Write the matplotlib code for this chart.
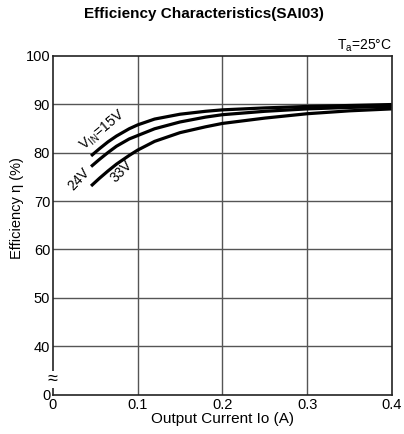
import numpy as np
import matplotlib.pyplot as plt

plt.rcParams['font.family'] = ['Liberation Sans', 'DejaVu Sans']

# output current (A) and efficiency (%)
current = [0.045, 0.055, 0.065, 0.075, 0.09, 0.10, 0.12, 0.15, 0.18, 0.20, 0.25, 0.30, 0.35, 0.40]
eff_15v = [79.3, 80.8, 82.2, 83.4, 84.9, 85.7, 86.9, 87.9, 88.5, 88.8, 89.2, 89.5, 89.7, 89.9]
eff_24v = [77.1, 78.6, 80.0, 81.3, 82.8, 83.5, 84.9, 86.3, 87.3, 87.8, 88.5, 89.0, 89.3, 89.5]
eff_33v = [73.1, 74.7, 76.2, 77.6, 79.4, 80.5, 82.3, 84.1, 85.3, 86.0, 87.1, 88.0, 88.6, 89.0]

x_ticks = [0, 0.1, 0.2, 0.3, 0.4]
x_labels = ['0', '0.1', '0.2', '0.3', '0.4']
y_ticks = [30, 40, 50, 60, 70, 80, 90, 100]
y_labels = ['0', '40', '50', '60', '70', '80', '90', '100']

fig = plt.figure(figsize=(4.04, 4.34), dpi=100)
ax = fig.add_axes([0.131, 0.09, 0.839, 0.782])

for eff in (eff_15v, eff_24v, eff_33v):
    ax.plot(current, eff, color='black', lw=2.3, solid_capstyle='butt')

ax.set_xlim(0, 0.4)
ax.set_ylim(30, 100)
ax.set_xticks(x_ticks)
ax.set_xticklabels(x_labels)
ax.set_yticks(y_ticks)
ax.set_yticklabels(y_labels)
ax.tick_params(length=0, labelsize=10.5, pad=2)

# grid: only inner lines
for v in [40, 50, 60, 70, 80, 90]:
    ax.axhline(v, color='#555555', lw=1, zorder=0)
for v in [0.1, 0.2, 0.3]:
    ax.axvline(v, color='#555555', lw=1, zorder=0)
for s in ax.spines.values():
    s.set_color('#222222')
    s.set_linewidth(1.2)

ax.set_xlabel('Output Current Io (A)', fontsize=11, labelpad=0)
ax.set_ylabel('Efficiency η (%)', fontsize=10.5)
ax.yaxis.set_label_coords(-0.085, 0.55)
fig.text(0.505, 0.968, 'Efficiency Characteristics(SAI03)', fontsize=11,
         fontweight='bold', ha='center', va='center')
ax.text(1.0, 1.005, r'T$_{\mathregular{a}}$=25°C', transform=ax.transAxes,
        ha='right', va='bottom', fontsize=10)

# curve labels
ax.text(0.058, 84.5, r'V$_{\mathregular{IN}}$=15V', rotation=40, fontsize=10,
        ha='center', va='center')
ax.text(0.031, 74.6, '24V', rotation=47, fontsize=10, ha='center', va='center')
ax.text(0.081, 76.0, '33V', rotation=45, fontsize=10, ha='center', va='center')

# axis break mark
ax.text(0.0, 0.045, '≈', transform=ax.transAxes, rotation=0, fontsize=13,
        ha='center', va='center',
        bbox=dict(facecolor='white', edgecolor='none', pad=0.0))

fig.savefig('out.png', dpi=100)
